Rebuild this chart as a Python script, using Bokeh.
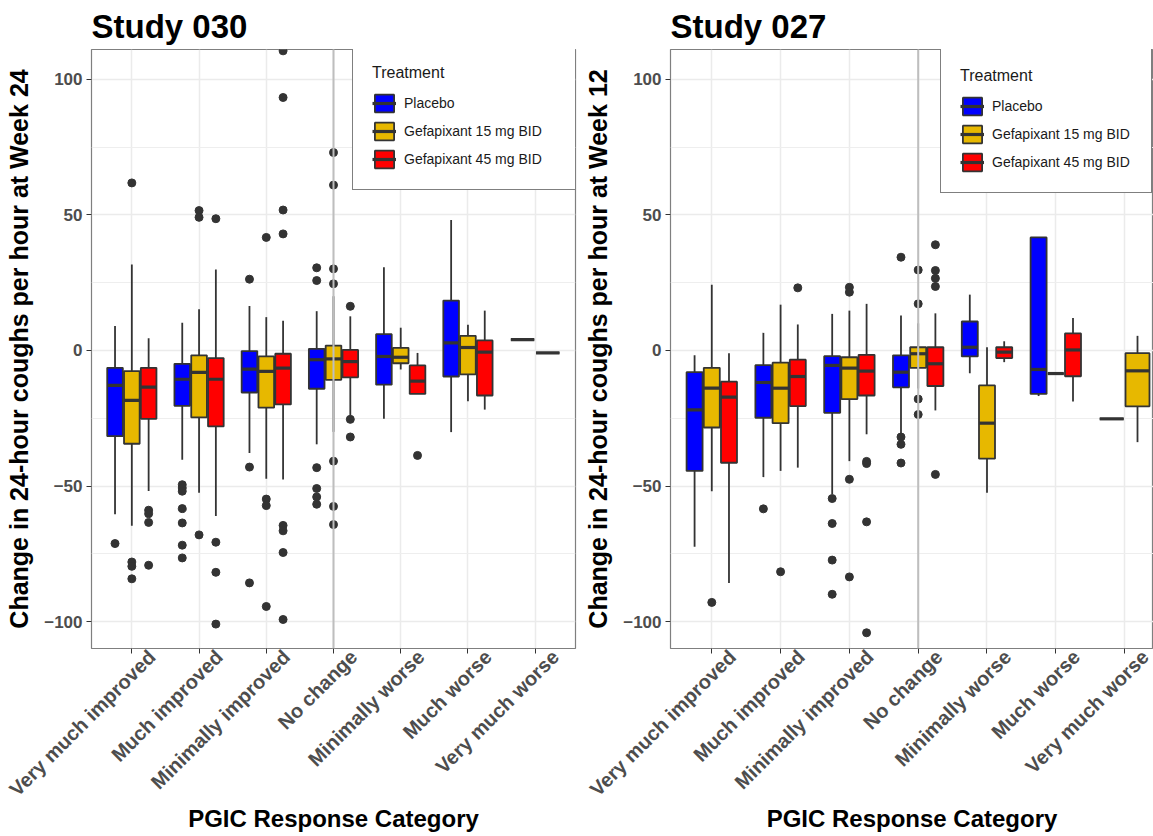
from bokeh.plotting import figure
from bokeh.models import (ColumnDataSource, FixedTicker, Span, Legend, LegendItem, Range1d,
                          LinearAxis)
from bokeh.layouts import row
from bokeh.embed import file_html
from bokeh.resources import INLINE

categories = ["Very much improved", "Much improved", "Minimally improved", "No change",
              "Minimally worse", "Much worse", "Very much worse"]
treatments = ["Placebo", "Gefapixant 15 mg BID", "Gefapixant 45 mg BID"]
colors = ["#0000FF", "#E7B800", "#FF0000"]
y_ticks = [-100, -50, 0, 50, 100]

# Each entry: [lower whisker, Q1, median, Q3, upper whisker]; None = no patients
s030_placebo = [[-60.4, -31.6, -12.9, -6.4, 9.0], [-40.3, -20.4, -10.6, -4.9, 10.2],
                [-37.8, -15.5, -6.9, -0.2, 16.4], [-34.6, -14.1, -3.4, 0.6, 14.5],
                [-25.2, -12.6, -2.2, 6.0, 30.7], [-30.1, -9.6, 2.8, 18.4, 48.1],
                [4.0, 4.0, 4.0, 4.0, 4.0]]
s030_placebo_out = [[-71.2], [-49.5, -50.7, -51.9, -58.3, -63.6, -71.8, -76.5],
                    [26.3, -43.0, -85.7], [30.5, 25.8, -43.2, -50.9, -54.0, -56.7],
                    [], [], []]
s030_gef15 = [[-64.6, -34.4, -18.4, -7.6, 31.7], [-52.5, -24.7, -8.1, -1.8, 15.2],
              [-47.3, -21.1, -7.7, -2.2, 12.3], [-30.0, -10.8, -3.1, 1.8, 20.0],
              [-7.0, -4.7, -2.5, 1.0, 8.4], [-18.7, -8.8, 1.1, 5.4, 9.5],
              [-0.9, -0.9, -0.9, -0.9, -0.9]]
s030_gef15_out = [[61.8, -78.0, -79.6, -84.2], [51.6, 49.1, -68.0],
                  [41.7, -54.8, -57.2, -94.4], [73.0, 61.0, 30.1, 24.6, -40.8, -57.5, -64.2],
                  [], [], []]
s030_gef45 = [[-51.8, -25.2, -13.5, -6.4, 4.5], [-61.0, -28.0, -10.6, -2.8, 29.9],
              [-47.6, -19.9, -6.5, -1.2, 11.0], [-24.0, -9.9, -4.1, 0.2, 12.6],
              [-16.0, -16.0, -11.3, -5.5, -0.9], [-21.8, -16.6, -0.6, 3.7, 14.7],
              None]
s030_gef45_out = [[-58.9, -60.2, -63.4, -79.2], [48.6, -70.7, -81.8, -100.9],
                  [110.5, 93.3, 51.8, 43.0, -64.5, -66.5, -74.5, -99.2],
                  [16.3, -25.4, -31.9], [-38.7], [], []]

s027_placebo = [[-72.4, -44.4, -21.9, -8.0, -1.8], [-46.7, -24.8, -11.8, -5.4, 6.5],
                [-53.0, -23.0, -5.5, -2.1, 13.5], [-30.7, -13.6, -8.0, -1.8, 12.9],
                [-8.4, -2.2, 1.2, 10.7, 20.6], [-16.8, -16.0, -7.0, 41.7, 41.7],
                [-25.2, -25.2, -25.2, -25.2, -25.2]]
s027_placebo_out = [[], [-58.4], [-54.6, -63.8, -77.3, -89.9],
                    [34.4, -31.9, -34.6, -41.5], [], [], []]
s027_gef15 = [[-51.9, -28.4, -13.9, -6.4, 24.2], [-44.4, -26.8, -13.9, -4.5, 16.9],
              [-40.8, -17.9, -6.5, -2.5, 14.7], [-14.0, -6.4, -1.2, 1.2, 10.0],
              [-52.5, -39.9, -26.8, -12.9, 1.2], [-8.5, -8.5, -8.5, -8.5, -8.5],
              [-33.8, -20.6, -7.5, -1.0, 5.4]]
s027_gef15_out = [[-92.9], [-81.6], [23.3, 21.5, -47.5, -83.5],
                  [29.7, 17.2, -17.9, -23.6], [], [], []]
s027_gef45 = [[-85.7, -41.4, -17.2, -11.5, -1.0], [-43.2, -20.5, -9.6, -3.4, 9.6],
              [-30.9, -16.6, -7.6, -1.6, 17.2], [-22.1, -13.1, -4.9, 1.2, 13.7],
              [-4.3, -2.8, -0.6, 1.2, 3.4], [-18.8, -9.5, 0.2, 6.3, 12.0],
              None]
s027_gef45_out = [[], [23.1], [-40.9, -41.7, -63.2, -104.1],
                  [39.0, 29.5, 26.6, 23.6, -45.7], [], [], []]

FONT = "Liberation Sans"
DARK = "#333333"
LABEL_SHIFT = 0.3  # rotated category labels sit a little right of their ticks


def make_panel(title, ylabel, stats, outs, width, min_left, min_right, x_end,
               legend_label_width, legend_loc):
    p = figure(width=width, height=836, output_backend="svg", toolbar_location=None,
               x_range=Range1d(0.4, x_end), y_range=Range1d(-109.9, 111.0),
               min_border_left=min_left, min_border_right=min_right,
               min_border_top=48, min_border_bottom=188, title=title)
    p.extra_x_ranges = {"lab": Range1d(0.4 - LABEL_SHIFT, x_end - LABEL_SHIFT)}
    p.title.text_font = FONT
    p.title.text_font_size = "33px"
    p.title.text_font_style = "bold"
    p.title.text_color = "#000000"
    p.title.offset = 0

    p.background_fill_color = "white"
    p.border_fill_color = "white"
    p.outline_line_color = "#7F7F7F"
    p.outline_line_width = 1.2

    ticks_x = list(range(1, len(categories) + 1))
    p.yaxis.ticker = FixedTicker(ticks=y_ticks, minor_ticks=[-75, -25, 25, 75])
    p.xaxis.ticker = FixedTicker(ticks=ticks_x)
    for ax in (p.xaxis, p.yaxis):
        ax.axis_line_color = None
        ax.major_tick_line_color = DARK
        ax.major_tick_out = 5
        ax.major_tick_in = 0
        ax.minor_tick_line_color = None
        ax.major_label_text_font = FONT
        ax.major_label_text_font_size = "17px"
        ax.major_label_text_font_style = "bold"
        ax.major_label_text_color = "#4D4D4D"
        ax.axis_label_text_font = FONT
        ax.axis_label_text_font_style = "bold"
        ax.axis_label_text_color = "#000000"
    # tick marks only on the primary x axis (labels come from the shifted axis below)
    p.xaxis.major_label_overrides = {t: "" for t in ticks_x}
    p.xaxis.major_label_text_font_size = "1px"
    p.xaxis.major_label_standoff = 0
    p.yaxis.axis_label = ylabel
    p.yaxis.axis_label_text_font_size = "25px"
    p.yaxis.axis_label_standoff = 8
    p.yaxis.major_label_standoff = 4

    lab_axis = LinearAxis(x_range_name="lab",
                          ticker=FixedTicker(ticks=ticks_x),
                          major_label_overrides={i + 1: c for i, c in enumerate(categories)},
                          major_label_orientation=0.7854,
                          axis_line_color=None, major_tick_line_color=None,
                          major_tick_out=0, major_tick_in=0, minor_tick_line_color=None,
                          major_label_standoff=0,
                          major_label_text_font=FONT, major_label_text_font_size="20px",
                          major_label_text_font_style="bold",
                          major_label_text_color="#4D4D4D",
                          axis_label="PGIC Response Category",
                          axis_label_text_font=FONT, axis_label_text_font_size="24px",
                          axis_label_text_font_style="bold", axis_label_text_color="#000000",
                          axis_label_standoff=-6)
    p.add_layout(lab_axis, "below")

    p.xgrid.grid_line_color = "#EBEBEB"
    p.xgrid.grid_line_width = 1.5
    p.ygrid.grid_line_color = "#EBEBEB"
    p.ygrid.grid_line_width = 1.5
    p.ygrid.minor_grid_line_color = "#EEEEEE"
    p.ygrid.minor_grid_line_width = 1.2

    n_cat = len(categories)
    present = [[k for k in range(3) if stats[k][c] is not None] for c in range(n_cat)]
    legend_items = []
    for k in range(3):
        xs, ws, lo, q1, md, q3, hi, ox, oy = [], [], [], [], [], [], [], [], []
        for c in range(n_cat):
            s = stats[k][c]
            if s is None:
                continue
            grp = present[c]
            n = len(grp)
            w = 0.75 / n
            x = c + 1 + (grp.index(k) - (n - 1) / 2) * w
            xs.append(x)
            ws.append(w * 0.93)
            lo.append(s[0]); q1.append(s[1]); md.append(s[2]); q3.append(s[3]); hi.append(s[4])
            for v in outs[k][c]:
                ox.append(x)
                oy.append(v)
        src = ColumnDataSource(dict(x=xs, w=ws, lo=lo, q1=q1, md=md, q3=q3, hi=hi,
                                    x0=[a - b / 2 for a, b in zip(xs, ws)],
                                    x1=[a + b / 2 for a, b in zip(xs, ws)]))
        p.segment(x0="x", x1="x", y0="q3", y1="hi", source=src, line_color=DARK, line_width=1.8)
        p.segment(x0="x", x1="x", y0="lo", y1="q1", source=src, line_color=DARK, line_width=1.8)
        box = p.vbar(x="x", width="w", top="q3", bottom="q1", source=src,
                     fill_color=colors[k], line_color=DARK, line_width=1.8)
        med = p.segment(x0="x0", x1="x1", y0="md", y1="md", source=src,
                        line_color=DARK, line_width=3.2)
        p.scatter(ox, oy, marker="circle", size=8, fill_color=DARK, line_color=DARK)
        legend_items.append(LegendItem(label=treatments[k], renderers=[box, med]))

    p.add_layout(Span(location=4, dimension="height", line_color="#BEBEBE", line_width=2))

    leg = Legend(items=legend_items, location=legend_loc, title="Treatment")
    leg.margin = 0
    leg.padding = 19
    leg.spacing = 6
    leg.glyph_width = 24
    leg.glyph_height = 22
    leg.label_standoff = 8
    leg.label_width = legend_label_width
    leg.title_standoff = 10
    leg.title_text_font = FONT
    leg.title_text_font_size = "16px"
    leg.title_text_font_style = "normal"
    leg.title_text_color = "#1A1A1A"
    leg.label_text_font = FONT
    leg.label_text_font_size = "14px"
    leg.label_text_color = "#1A1A1A"
    leg.border_line_color = "#000000"
    leg.border_line_width = 1.5
    leg.background_fill_color = "white"
    leg.background_fill_alpha = 1.0
    p.add_layout(leg)
    return p


p1 = make_panel("Study 030", "Change in 24-hour coughs per hour at Week 24",
                [s030_placebo, s030_gef15, s030_gef45],
                [s030_placebo_out, s030_gef15_out, s030_gef45_out],
                580, 91, 5, 7.6, 152, (261, 458))
p2 = make_panel("Study 027", "Change in 24-hour coughs per hour at Week 12",
                [s027_placebo, s027_gef15, s027_gef45],
                [s027_placebo_out, s027_gef15_out, s027_gef45_out],
                573, 90, 0, 7.42, 140, (270, 455))

layout = row(p1, p2, spacing=0)
open("out.html", "w").write(file_html(layout, INLINE))
